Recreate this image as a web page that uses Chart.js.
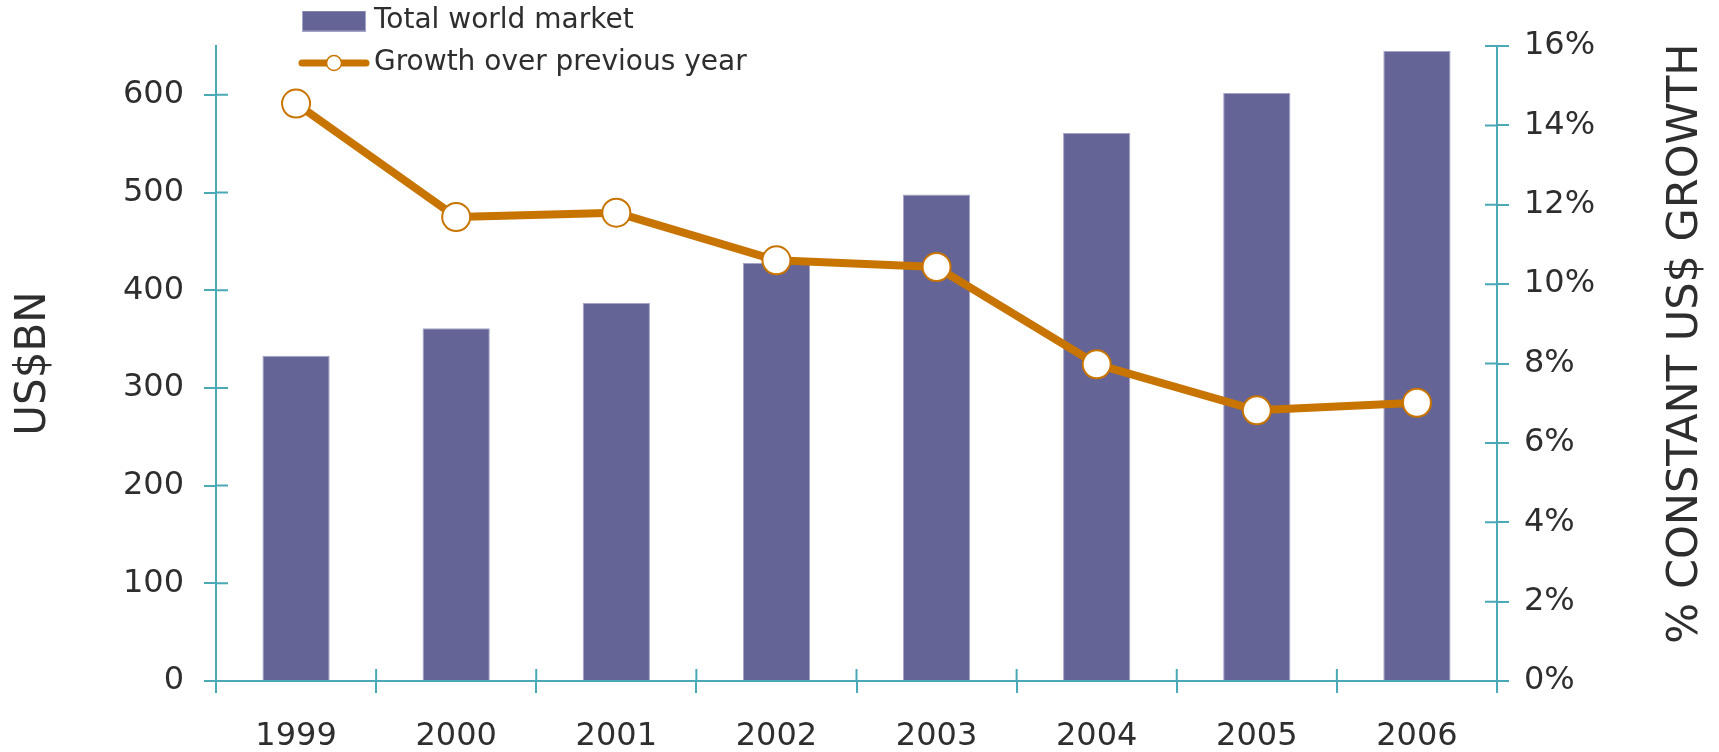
<!DOCTYPE html>
<html>
<head>
<meta charset="utf-8">
<title>Total world market and growth, 1999–2006</title>
<script src="https://cdn.jsdelivr.net/npm/chart.js@4/dist/chart.umd.min.js"></script>
<style>
  html, body { margin: 0; padding: 0; background: #ffffff; }
  #wrap { width: 1719px; height: 752px; position: relative; }
  canvas { display: block; }
</style>
</head>
<body>
<div id="wrap"><canvas id="chart" width="1719" height="752"></canvas></div>
<script>
// ---- data ----
const years = ['1999', '2000', '2001', '2002', '2003', '2004', '2005', '2006'];
const marketValues = [333, 361, 387, 428, 498, 561, 602, 645];           // US$ BN
const growthValues = [14.55, 11.69, 11.80, 10.60, 10.43, 7.98, 6.82, 7.01]; // % growth
const seriesNames = ['Total world market', 'Growth over previous year'];
const axisTitles = ['US$BN', '% CONSTANT US$ GROWTH'];
const marketAxisMax = 650;
const marketAxisStep = 100;
const growthAxisMax = 16;
const growthAxisStep = 2;

// ---- styling ----
const FONT = '"DejaVu Sans", Verdana, sans-serif';
const textColor = '#2e2e2e';
const axisColor = '#4aa9b5';
const barColor = '#646496';
const barEdge = '#a4a4c8';
const lineColor = '#c87400';
const tickLen = 12;

// legend keys: a filled swatch and a line with a hollow marker
function makeBarKey() {
  const c = document.createElement('canvas');
  c.width = 64; c.height = 21;
  const g = c.getContext('2d');
  g.fillStyle = barColor;
  g.fillRect(0, 0, 64, 21);
  g.strokeStyle = barEdge;
  g.lineWidth = 1;
  g.strokeRect(0.5, 0.5, 63, 20);
  return c;
}
function makeLineKey() {
  const c = document.createElement('canvas');
  c.width = 72; c.height = 22;
  const g = c.getContext('2d');
  g.strokeStyle = lineColor;
  g.lineWidth = 7;
  g.lineCap = 'round';
  g.beginPath(); g.moveTo(4, 11); g.lineTo(68, 11); g.stroke();
  g.beginPath(); g.arc(36, 11, 7.5, 0, Math.PI * 2);
  g.fillStyle = '#ffffff'; g.fill();
  g.lineWidth = 1.5; g.stroke();
  return c;
}
const legendKeys = [makeBarKey(), makeLineKey()];

// keeps the legend at the top left, overlapping the plot's upper margin
const legendPlacement = {
  id: 'legendPlacement',
  afterUpdate(chart) {
    const lg = chart.legend;
    if (!lg) return;
    lg.left = 294; lg.top = -7;
    lg.right = lg.left + 650; lg.bottom = lg.top + 120;
    lg.width = 650; lg.height = 120;
    lg.adjustHitBoxes();
  }
};

// tick marks that cross the axis lines (inner half; outer half comes from the scales)
const innerTicks = {
  id: 'innerTicks',
  afterDraw(chart) {
    const {ctx, chartArea, scales} = chart;
    ctx.save();
    ctx.strokeStyle = axisColor;
    ctx.lineWidth = 2;
    ctx.beginPath();
    const x = scales.x;
    for (let i = 1; i < years.length; i++) {
      const px = x.getPixelForValue(i - 0.5);
      ctx.moveTo(px, chartArea.bottom); ctx.lineTo(px, chartArea.bottom - tickLen);
    }
    scales.y.ticks.forEach((t, i) => {
      const py = scales.y.getPixelForTick(i);
      ctx.moveTo(chartArea.left, py); ctx.lineTo(chartArea.left + tickLen, py);
    });
    scales.y1.ticks.forEach((t, i) => {
      const py = scales.y1.getPixelForTick(i);
      ctx.moveTo(chartArea.right, py); ctx.lineTo(chartArea.right - tickLen, py);
    });
    ctx.stroke();
    ctx.restore();
  }
};

// vertical axis titles, both reading bottom to top
const axisTitlePlugin = {
  id: 'axisTitlePlugin',
  afterDraw(chart) {
    const {ctx, chartArea} = chart;
    ctx.save();
    ctx.fillStyle = textColor;
    ctx.font = '42px ' + FONT;
    ctx.textAlign = 'center';
    ctx.textBaseline = 'middle';
    const mid = (chartArea.top + chartArea.bottom) / 2;
    ctx.save();
    ctx.translate(34, mid);
    ctx.rotate(-Math.PI / 2);
    ctx.fillText(axisTitles[0], 0, 0);
    ctx.restore();
    ctx.save();
    ctx.font = '43px ' + FONT;
    ctx.translate(chart.width - 33, mid - 20);
    ctx.rotate(-Math.PI / 2);
    ctx.fillText(axisTitles[1], 0, 0);
    ctx.restore();
    ctx.restore();
  }
};

const axisGrid = {
  display: true,
  drawOnChartArea: false,
  drawTicks: true,
  tickLength: tickLen,
  color: axisColor,
  lineWidth: 2
};
const axisBorder = { display: true, color: axisColor, width: 2 };

new Chart(document.getElementById('chart'), {
  type: 'bar',
  data: {
    labels: years,
    datasets: [
      {
        type: 'bar',
        label: seriesNames[0],
        data: marketValues,
        yAxisID: 'y',
        order: 1,
        backgroundColor: barColor,
        borderColor: barEdge,
        borderWidth: 1,
        barPercentage: 0.42,
        categoryPercentage: 1
      },
      {
        type: 'line',
        label: seriesNames[1],
        data: growthValues,
        yAxisID: 'y1',
        order: 0,
        borderColor: lineColor,
        borderWidth: 8,
        borderJoinStyle: 'round',
        borderCapStyle: 'round',
        tension: 0,
        pointRadius: 14,
        pointBorderWidth: 2,
        pointBackgroundColor: '#ffffff',
        pointBorderColor: lineColor
      }
    ]
  },
  options: {
    responsive: false,
    devicePixelRatio: 1,
    animation: false,
    events: [],
    layout: { padding: { top: 46, left: 0, right: 0, bottom: 0 } },
    plugins: {
      tooltip: { enabled: false },
      legend: {
        position: 'chartArea',
        align: 'start',
        labels: {
          usePointStyle: true,
          pointStyleWidth: 52,
          padding: 14,
          color: textColor,
          font: { family: FONT, size: 28 },
          generateLabels(chart) {
            const items = Chart.defaults.plugins.legend.labels.generateLabels(chart);
            items.sort((a, b) => a.datasetIndex - b.datasetIndex);
            items.forEach(it => { it.pointStyle = legendKeys[it.datasetIndex]; });
            return items;
          }
        }
      }
    },
    scales: {
      x: {
        offset: true,
        grid: Object.assign({ offset: true }, axisGrid),
        border: axisBorder,
        ticks: {
          color: textColor,
          font: { family: FONT, size: 32 },
          padding: 24,
          maxRotation: 0,
          autoSkip: false
        },
        afterFit(s) { s.height = 71; }
      },
      y: {
        position: 'left',
        min: 0,
        max: marketAxisMax,
        grid: axisGrid,
        border: axisBorder,
        ticks: {
          stepSize: marketAxisStep,
          includeBounds: false,
          color: textColor,
          font: { family: FONT, size: 32 },
          padding: 20
        },
        afterFit(s) { s.width = 216; }
      },
      y1: {
        position: 'right',
        min: 0,
        max: growthAxisMax,
        grid: axisGrid,
        border: axisBorder,
        ticks: {
          stepSize: growthAxisStep,
          color: textColor,
          font: { family: FONT, size: 32 },
          padding: 15,
          callback: v => v + '%'
        },
        afterFit(s) { s.width = 222; }
      }
    }
  },
  plugins: [legendPlacement, innerTicks, axisTitlePlugin]
});
</script>
</body>
</html>
